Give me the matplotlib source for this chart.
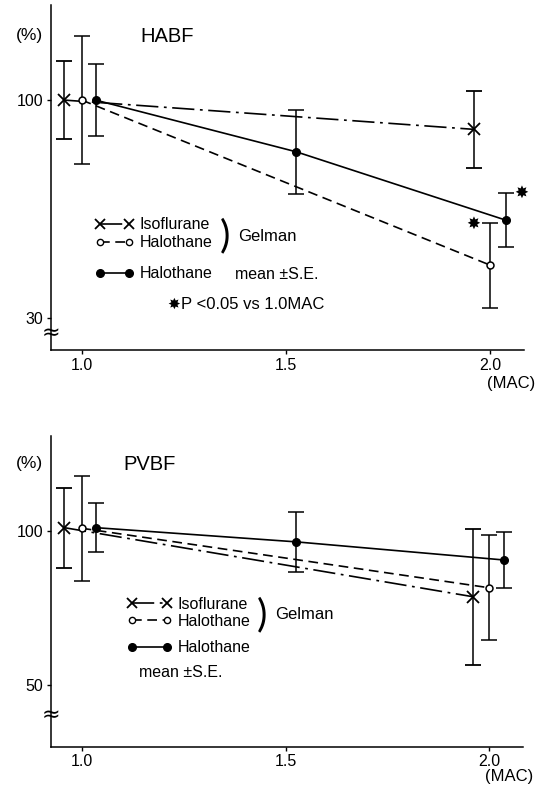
import matplotlib
matplotlib.use("Agg")
import matplotlib.pyplot as plt
from matplotlib.lines import Line2D
from matplotlib.transforms import blended_transform_factory

plt.rcParams['font.family'] = ['Liberation Sans', 'DejaVu Sans']
plt.rcParams['lines.scale_dashes'] = False

# ---------------- data ----------------
iso_x = [0.957, 1.96]
gel_x = [1.0, 2.0]
hal_x = [1.034, 1.525, 2.037]

habf_iso = [100, 90.6]
habf_iso_se = [12.6, 12.4]
habf_gel = [100, 47.0]
habf_gel_se = [20.5, 13.6]
habf_hal = [100, 83.4, 61.5]
habf_hal_se = [11.5, 13.5, 8.8]
habf_sig_x = [1.958, 2.076]
habf_sig_y = [60.2, 70.3]

pvbf_iso = [101, 78.6]
pvbf_iso_se = [13, 22]
pvbf_gel = [100.8, 81.5]
pvbf_gel_se = [17, 17]
pvbf_hal = [101, 96.4, 90.5]
pvbf_hal_se = [8, 9.7, 9]

x_ticks = [1.0, 1.5, 2.0]
x_ticklabels = ['1.0', '1.5', '2.0']
habf_yticks = [30, 100]
pvbf_yticks = [50, 100]

DASH = (0, (7, 4))
DASHDOT = (0, (16, 4, 2, 4))
LW = 1.2
TICKFONT = ['Liberation Sans Narrow', 'Liberation Sans', 'DejaVu Sans']
STAR = '\u2738'
BRACKET_FONT = ['Lato', 'DejaVu Sans']

fig = plt.figure(figsize=(5.55, 7.86), dpi=100)
ax1 = fig.add_axes([0.092, 0.5547, 0.852, 0.4389])
ax2 = fig.add_axes([0.092, 0.050, 0.850, 0.3953])


def draw_panel(ax, iso, iso_se, gel, gel_se, hal, hal_se, ylim, yticks, brk):
    ax.errorbar(iso_x, iso, yerr=iso_se, color='black', lw=LW, ls=DASHDOT,
                marker='x', ms=8.5, mew=1.3, capsize=6, elinewidth=1.1, capthick=1.1)
    ax.errorbar(gel_x, gel, yerr=gel_se, color='black', lw=LW, ls=DASH,
                marker='o', ms=5, mfc='white', mec='black', mew=1.1,
                capsize=6, elinewidth=1.1, capthick=1.1)
    ax.errorbar(hal_x, hal, yerr=hal_se, color='black', lw=LW, ls='-',
                marker='o', ms=5.5, mfc='black', mec='black',
                capsize=6, elinewidth=1.1, capthick=1.1)
    ax.set_xlim(0.925, 2.082)
    ax.set_ylim(*ylim)
    ax.set_xticks(x_ticks)
    ax.set_xticklabels(x_ticklabels)
    ax.set_yticks(yticks)
    ax.set_yticklabels([str(v) for v in yticks])
    for lab in ax.get_xticklabels() + ax.get_yticklabels():
        lab.set_family(TICKFONT)
        lab.set_fontsize(11.5)
    ax.tick_params(direction='out', length=3, width=1, pad=2.5)
    for s in ['top', 'right']:
        ax.spines[s].set_visible(False)
    for s in ['left', 'bottom']:
        ax.spines[s].set_linewidth(1.1)
    tr = blended_transform_factory(ax.transAxes, ax.transData)
    ax.text(0, brk, '\u2248', transform=tr, ha='center', va='center',
            fontsize=16, family='DejaVu Sans')
    ax.text(0.972, -0.097, '(MAC)', transform=ax.transAxes, ha='center',
            va='center', fontsize=12, family=TICKFONT)


draw_panel(ax1, habf_iso, habf_iso_se, habf_gel, habf_gel_se, habf_hal, habf_hal_se,
           (19.8, 130.5), habf_yticks, 25.2)
draw_panel(ax2, pvbf_iso, pvbf_iso_se, pvbf_gel, pvbf_gel_se, pvbf_hal, pvbf_hal_se,
           (30.0, 130.7), pvbf_yticks, 40.3)

for sx, sy in zip(habf_sig_x, habf_sig_y):
    ax1.text(sx, sy, STAR, ha='center', va='center', fontsize=12,
             family='DejaVu Sans')

# ---------------- legends / annotations ----------------
h_iso = Line2D([], [], color='black', lw=LW, ls=DASHDOT, marker='x', ms=7.5, mew=1.3)
h_gel = Line2D([], [], color='black', lw=LW, ls=DASH, marker='o', ms=4.5,
               mfc='white', mec='black', mew=1.0)
h_hal = Line2D([], [], color='black', lw=LW, ls='-', marker='o', ms=5.5,
               mfc='black', mec='black')

leg_kw = dict(frameon=False, numpoints=2, fontsize=11.5, borderpad=0,
              borderaxespad=0, handletextpad=0.35, loc='upper left')

# top panel
l1 = ax1.legend([h_iso, h_gel], ['Isoflurane', 'Halothane'], handlelength=2.4,
                labelspacing=0.2, bbox_to_anchor=(0.094, 0.385), **leg_kw)
ax1.add_artist(l1)
ax1.legend([h_hal], ['Halothane'], handlelength=2.4,
           bbox_to_anchor=(0.094, 0.243), **leg_kw)
ax1.text(0.368, 0.330, ')', transform=ax1.transAxes, ha='center', va='center',
         fontsize=28, family=BRACKET_FONT, fontweight='normal')
ax1.text(0.395, 0.330, 'Gelman', transform=ax1.transAxes, ha='left', va='center',
         fontsize=12)
ax1.text(0.39, 0.220, 'mean \u00b1S.E.', transform=ax1.transAxes, ha='left',
         va='center', fontsize=11.5)
ax1.text(0.247, 0.133, STAR, transform=ax1.transAxes, ha='left', va='center',
         fontsize=11, family='DejaVu Sans')
ax1.text(0.275, 0.133, 'P <0.05 vs 1.0MAC', transform=ax1.transAxes, ha='left',
         va='center', fontsize=12)
ax1.text(0.188, 0.908, 'HABF', transform=ax1.transAxes, ha='left', va='center',
         fontsize=14.5)
ax1.text(-0.046, 0.913, '(%)', transform=ax1.transAxes, ha='center', va='center',
         fontsize=12.5)

# bottom panel
l2 = ax2.legend([h_iso, h_gel], ['Isoflurane', 'Halothane'], handlelength=2.8,
                labelspacing=0.12, bbox_to_anchor=(0.162, 0.482), **leg_kw)
ax2.add_artist(l2)
ax2.legend([h_hal], ['Halothane'], handlelength=2.8,
           bbox_to_anchor=(0.162, 0.343), **leg_kw)
ax2.text(0.448, 0.424, ')', transform=ax2.transAxes, ha='center', va='center',
         fontsize=28, family=BRACKET_FONT, fontweight='normal')
ax2.text(0.4745, 0.424, 'Gelman', transform=ax2.transAxes, ha='left', va='center',
         fontsize=12)
ax2.text(0.186, 0.238, 'mean \u00b1S.E.', transform=ax2.transAxes, ha='left',
         va='center', fontsize=11.5)
ax2.text(0.154, 0.907, 'PVBF', transform=ax2.transAxes, ha='left', va='center',
         fontsize=14.5)
ax2.text(-0.045, 0.912, '(%)', transform=ax2.transAxes, ha='center', va='center',
         fontsize=12.5)

fig.savefig('out.png', dpi=100)
